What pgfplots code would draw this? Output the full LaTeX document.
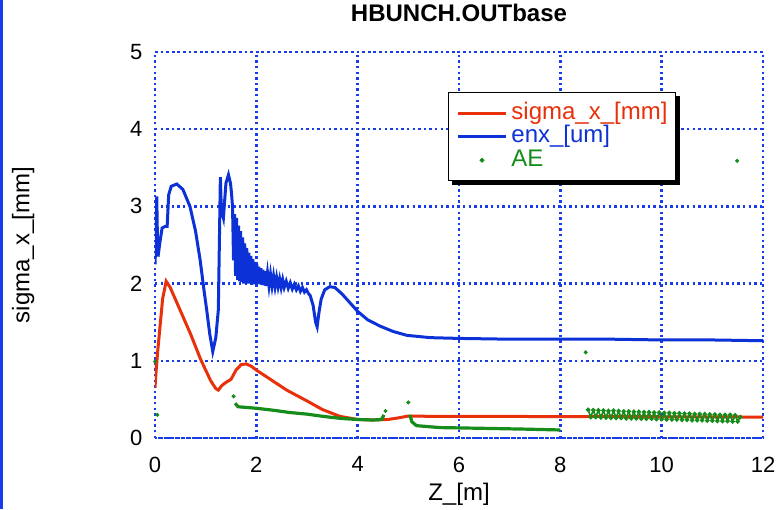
\documentclass[border=0pt]{standalone}
\usepackage{fontspec}
\setmainfont{Liberation Sans}
\usepackage{pgfplots}
\pgfplotsset{compat=1.18}

\definecolor{cred}{RGB}{232,48,10}
\definecolor{cblue}{RGB}{12,50,215}
\definecolor{cgreen}{RGB}{22,140,26}
\definecolor{cgrid}{RGB}{25,60,235}

\pgfplotsset{
  linelegend/.style={legend image code/.code={\draw[##1] (0pt,0pt) -- (24pt,0pt);}},
  dotlegend/.style={legend image code/.code={\draw[##1] plot coordinates {(12pt,0pt)};}},
}

\begin{document}
\begin{tikzpicture}
\useasboundingbox (0,0) rectangle (390.5pt,254.5pt);
\fill[cgrid] (0,0) rectangle (1.5pt,254.5pt);
\begin{axis}[
  at={(77.5pt,35.5pt)}, anchor=south west,
  scale only axis, width=304pt, height=193pt,
  xmin=0, xmax=12, ymin=0, ymax=5,
  xtick={0,2,...,12}, ytick={0,1,...,5},
  major tick length=0pt,
  grid=major,
  major grid style={cgrid, line width=1.25pt, dash pattern=on 1.2pt off 1.6pt},
  axis line style={cgrid, line width=1.25pt, dash pattern=on 1.2pt off 1.6pt},
  /pgf/number format/assume math mode=true,
  tick label style={font=\fontsize{11}{13}\selectfont},
  xticklabel style={yshift=-5.8pt},
  yticklabel style={xshift=-2.8pt},
  label style={font=\fontsize{12}{14}\selectfont},
  xlabel={Z\_[m]},
  ylabel={sigma\_x\_[mm]},
  xlabel style={at={(axis description cs:0.5,-0.145)}, anchor=center},
  ylabel style={at={(axis description cs:-0.217,0.5)}, anchor=center},
  title={HBUNCH.OUTbase},
  title style={at={(axis description cs:0.5,1.070)}, anchor=center,
    font=\fontsize{12}{14}\selectfont\bfseries},
  linelegend,
  legend cell align=left,
  legend style={
    name=leg,
    at={(rel axis cs:0.4814,0.897)}, anchor=north west,
    draw=black, line width=0.75pt, fill=white,
    font=\fontsize{12}{14}\selectfont,
    inner xsep=4pt, inner ysep=4.5pt, row sep=0.3pt,
    nodes={inner sep=0pt, text height=8.8pt, text depth=2.7pt},
    /tikz/every odd column/.append style={column sep=2pt},
  },
]

% beam size
\addplot[cred, line width=1.5pt] coordinates {
  (0,0.65) (0.02,0.85) (0.05,1.1) (0.1,1.45) (0.15,1.8) (0.22,2.03)
  (0.3,1.95) (0.5,1.65) (0.7,1.35) (0.9,1.02) (1.0,0.88) (1.1,0.74)
  (1.2,0.64) (1.25,0.62) (1.32,0.68) (1.4,0.72) (1.5,0.76) (1.6,0.88)
  (1.7,0.95) (1.8,0.96) (1.9,0.93) (2.0,0.88) (2.3,0.75) (2.6,0.62)
  (3.0,0.48) (3.3,0.37) (3.65,0.28) (4.0,0.24) (4.3,0.233) (4.6,0.24)
  (4.8,0.26) (5.0,0.285) (5.5,0.28) (6,0.28) (7,0.28) (8,0.276)
  (9,0.28) (10,0.275) (11,0.275) (12,0.27)
};
\addlegendentry{\textcolor{cred}{sigma\_x\_[mm]}}

% normalized emittance
\addplot[cblue, line width=1.5pt] coordinates {
  (0,2.25) (0.02,2.6) (0.035,3.13) (0.05,2.5) (0.06,2.35) (0.1,2.55)
  (0.14,2.72) (0.2,2.74) (0.24,2.74) (0.27,3.15) (0.32,3.26) (0.43,3.29)
  (0.55,3.22) (0.69,3.0) (0.8,2.68) (0.89,2.31) (0.97,1.9) (1.02,1.66)
  (1.08,1.35) (1.14,1.12) (1.2,1.3) (1.25,1.66) (1.27,2.5) (1.29,3.38)
  (1.31,2.95) (1.35,2.85) (1.4,3.3) (1.45,3.41) (1.49,3.3) (1.51,3.17)
  (1.53,3.0) (1.55,2.3) (1.57,2.9) (1.59,2.1) (1.61,2.85) (1.63,2.05)
  (1.65,2.75) (1.67,2.03) (1.69,2.68) (1.71,2.02) (1.73,2.6) (1.75,2.0)
  (1.77,2.52) (1.79,2.0) (1.81,2.46) (1.83,2.0) (1.85,2.4) (1.87,2.0)
  (1.89,2.36) (1.91,2.0) (1.93,2.32) (1.95,1.99) (1.97,2.28) (1.99,1.99)
  (2.01,2.25) (2.03,2.0) (2.05,2.22) (2.07,1.99) (2.09,2.2) (2.11,1.98)
  (2.13,2.18) (2.15,1.98) (2.17,2.16) (2.19,1.97) (2.22,2.14) (2.25,1.97)
  (2.28,2.12) (2.31,1.97) (2.34,2.1) (2.37,1.96) (2.40,2.08) (2.43,1.96)
  (2.46,2.06) (2.49,1.95) (2.52,2.05) (2.55,1.95) (2.59,2.03) (2.63,1.94)
  (2.67,2.01) (2.71,1.93) (2.75,1.99) (2.79,1.92) (2.83,1.97) (2.87,1.9)
  (2.91,1.95) (2.95,1.89) (2.99,1.92) (3.03,1.87) (3.06,1.85) (3.12,1.72)
  (3.17,1.5) (3.2,1.44) (3.23,1.6) (3.28,1.8) (3.35,1.92) (3.45,1.96)
  (3.55,1.95) (3.7,1.86) (3.85,1.75) (4.0,1.64) (4.2,1.53) (4.44,1.45)
  (4.7,1.38) (4.97,1.33) (5.43,1.30) (6.0,1.29) (7,1.28) (8,1.28)
  (9,1.28) (10,1.27) (11,1.27) (12,1.26)
};
\addlegendentry{\textcolor{cblue}{enx\_[um]}}

% AE: dense runs of points
\addplot[cgreen, line width=1.6pt, forget plot] coordinates {
  (1.58,0.45) (1.64,0.405) (2.0,0.385) (2.33,0.36) (2.66,0.33)
  (2.99,0.31) (3.32,0.28) (3.65,0.255) (3.98,0.24) (4.31,0.233)
  (4.47,0.24) (4.52,0.3)
};
\addplot[cgreen, line width=1.6pt, forget plot] coordinates {
  (5.03,0.30) (5.07,0.21) (5.16,0.16) (5.62,0.135) (6.5,0.125)
  (7.3,0.115) (8.0,0.104)
};
\addplot[cgreen, line width=0.8pt, mark=*, mark size=0.7pt, forget plot] coordinates {
  (8.55,0.365) (8.60,0.27) (8.65,0.36) (8.70,0.27) (8.75,0.36) (8.80,0.265)
  (8.85,0.355) (8.90,0.265) (8.95,0.35) (9.00,0.26) (9.05,0.355) (9.10,0.26)
  (9.15,0.35) (9.20,0.26) (9.25,0.345) (9.30,0.255) (9.35,0.345) (9.40,0.255)
  (9.45,0.34) (9.50,0.255) (9.55,0.34) (9.60,0.25) (9.65,0.335) (9.70,0.25)
  (9.75,0.335) (9.80,0.25) (9.85,0.33) (9.90,0.245) (9.95,0.33) (10.00,0.245)
  (10.05,0.325) (10.10,0.24) (10.15,0.325) (10.20,0.24) (10.25,0.32) (10.30,0.24)
  (10.35,0.32) (10.40,0.235) (10.45,0.315) (10.50,0.235) (10.55,0.315) (10.60,0.23)
  (10.65,0.31) (10.70,0.23) (10.75,0.31) (10.80,0.23) (10.85,0.31) (10.90,0.225)
  (10.95,0.305) (11.00,0.225) (11.05,0.305) (11.10,0.22) (11.15,0.30) (11.20,0.22)
  (11.25,0.30) (11.30,0.22) (11.35,0.30) (11.40,0.215) (11.45,0.295) (11.50,0.215)
  (11.55,0.27)
};
% AE: isolated points
\addplot[cgreen, only marks, mark=*, mark size=0.8pt, dotlegend]
  coordinates {
  (0,0.99) (0.045,0.30) (1.55,0.54) (4.55,0.35) (5.0,0.46)
  (8.5,1.11) (11.49,3.59)
};
\addlegendentry{\textcolor{cgreen}{AE}}
\end{axis}
% drop shadow of the legend box
\fill[black] ([yshift=-2pt]leg.north east) rectangle ([shift={(2pt,-2pt)}]leg.south east);
\fill[black] ([xshift=2pt]leg.south west) rectangle ([shift={(2pt,-2pt)}]leg.south east);
\end{tikzpicture}
\end{document}
